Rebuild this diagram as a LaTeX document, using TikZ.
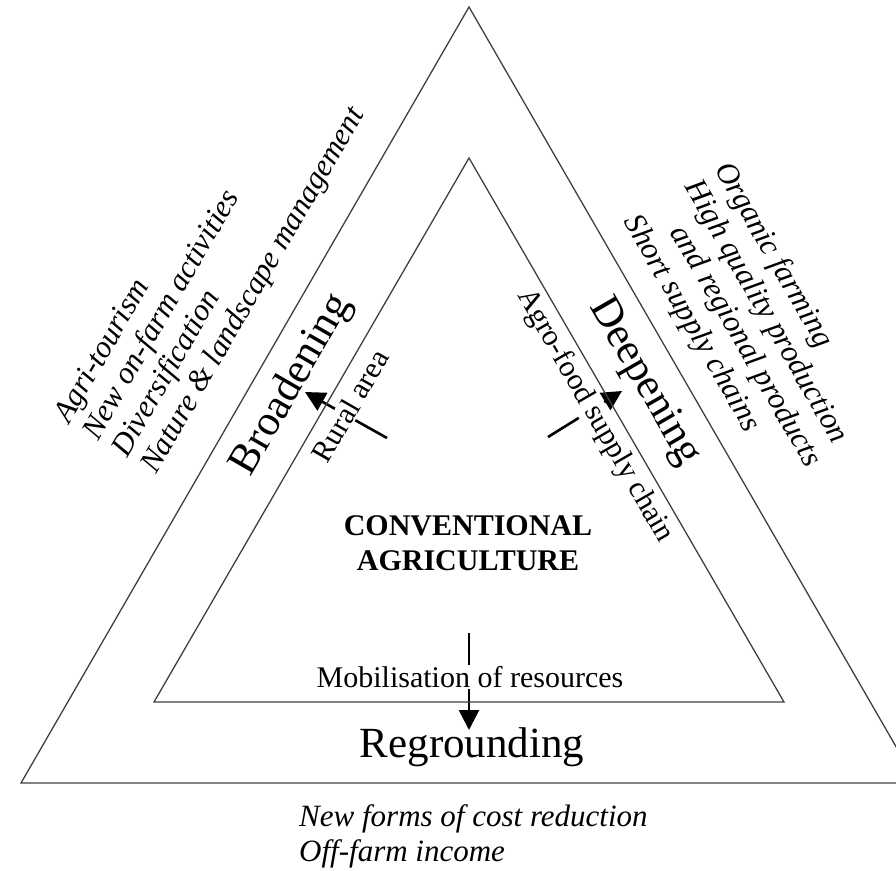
\documentclass[tikz,border=0pt]{standalone}
\usepackage{fontspec}
\setmainfont{Liberation Serif}
\usetikzlibrary{arrows.meta}
\tikzstyle{big_label} = [
    font=\fontsize{43}{48}\selectfont, 
    inner sep=0pt
]
\tikzstyle{side_label} = [
    font=\fontsize{30}{34}\selectfont, 
    fill=white, 
    inner sep=1pt
]
\tikzstyle{list_label} = [
    font=\fontsize{31}{33.5}\selectfont\itshape, 
    align=left, 
    inner sep=0pt
]
\tikzstyle{core_label} = [
    font=\fontsize{30}{35}\selectfont\bfseries, 
    align=center
]
\tikzstyle{shift_arrow} = [
    line width=2.6pt, 
    -{Triangle[length=20pt, width=20pt]}
]
\tikzstyle{triangle_line} = [
    line width=1.3pt, 
    draw=black!75, 
    line join=miter
]
\begin{document}
\begin{tikzpicture}[x=1pt, y=-1pt]
\clip (0,0) rectangle (896,870);
% corners
\coordinate (outer_top) at (469,7);
\coordinate (outer_left) at (21,783);
\coordinate (outer_right) at (917,783);
\coordinate (inner_top) at (469,158);
\coordinate (inner_left) at (154,702);
\coordinate (inner_right) at (784,702);
% arrow ends
\coordinate (rural_tail) at (387,438);
\coordinate (rural_tip) at (305,392);
\coordinate (agro_tail) at (548,437);
\coordinate (agro_tip) at (622,391);
\coordinate (mob_tail) at (469,633);
\coordinate (mob_tip) at (469,730);

\draw [shift_arrow] (rural_tail) -- (rural_tip);
\draw [shift_arrow] (agro_tail) -- (agro_tip);
\draw [shift_arrow] (mob_tail) -- (mob_tip);

\node [side_label, rotate=60] (rural) at (350,406) {Rural area};
\node [side_label, rotate=-60] (agro) at (595,416) {Agro-food supply chain};
\node [side_label] (mobilisation) at (470,677) {Mobilisation of resources};

\draw [triangle_line] (outer_top) -- (outer_left) -- (outer_right) -- cycle;
\draw [triangle_line] (inner_top) -- (inner_left) -- (inner_right) -- cycle;

\node [big_label, rotate=60] (broadening) at (292,385) {Broadening};
\node [big_label, rotate=-60] (deepening) at (644,382) {Deepening};
\node [big_label] (regrounding) at (472,747) {Regrounding};
\node [core_label] (conventional) at (468,543) {CONVENTIONAL\\AGRICULTURE};

\node [list_label, rotate=60] (broad_list) at (211,266) {
    Agri-tourism\\
    New on-farm activities\\
    Diversification\\
    Nature \& landscape management};
\node [list_label, rotate=-60, font=\fontsize{31}{35}\selectfont\itshape] (deep_list) at (752,324) {
    Organic farming\\
    High quality production\\
    \hspace*{32pt}and regional products\\
    Short supply chains};
\node [list_label, font=\fontsize{31}{35}\selectfont\itshape, anchor=west] (ground_list) at (299,836) {
    New forms of cost reduction\\
    Off-farm income};
\end{tikzpicture}
\end{document}
